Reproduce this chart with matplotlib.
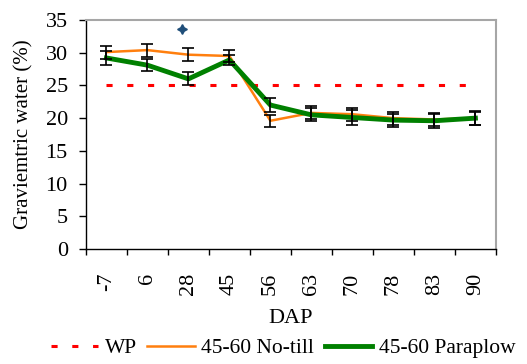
import numpy as np
import matplotlib
matplotlib.use("Agg")
import matplotlib.pyplot as plt

plt.rcParams["font.family"] = "serif"
plt.rcParams["font.serif"] = ["Liberation Serif", "Times New Roman", "DejaVu Serif"]

dap = ["-7", "6", "28", "45", "56", "63", "70", "78", "83", "90"]
wp = 25.0
notill = [30.1, 30.4, 29.7, 29.5, 19.6, 20.8, 20.6, 20.0, 19.8, 20.0]
notill_err = [1.0, 1.0, 1.0, 0.9, 0.9, 1.0, 1.0, 1.0, 1.0, 1.0]
paraplow = [29.2, 28.1, 26.0, 28.9, 22.0, 20.5, 20.1, 19.7, 19.6, 20.0]
paraplow_err = [1.0, 0.9, 1.0, 0.8, 1.1, 1.0, 1.1, 1.0, 1.1, 1.1]
# significance marker
sig_x = 1.84
sig_y = 33.7

x = np.arange(len(dap))

fig = plt.figure(figsize=(5.27, 3.64), dpi=100)
ax = fig.add_axes([0.163, 0.316, 0.778, 0.629])

ax.plot([x[0], x[-1]], [wp, wp], color="#ff0000", lw=2.2, ls=(0, (2, 4.8)),
        label="WP", zorder=2)
ax.plot(x, notill, color="#ff7f0e", lw=1.8, label="45-60 No-till", zorder=3)
ax.plot(x, paraplow, color="#008000", lw=3.5, label="45-60 Paraplow", zorder=4)
ax.errorbar(x, notill, yerr=notill_err, fmt="none", ecolor="black",
            elinewidth=1.2, capsize=4, capthick=1.2, zorder=5)
ax.errorbar(x, paraplow, yerr=paraplow_err, fmt="none", ecolor="black",
            elinewidth=1.2, capsize=4, capthick=1.2, zorder=5)
ax.plot([sig_x], [sig_y], marker=(4, 1, 0), color="#1f4e79", ms=7,
        ls="none", zorder=6)

ax.set_xlim(-0.5, len(dap) - 0.5)
ax.set_ylim(0, 35)
ax.set_yticks(np.arange(0, 36, 5))
ax.set_xticks(np.arange(-0.5, len(dap), 1.0))
ax.set_xticklabels([])
ax.set_xticks(x, minor=True)
ax.set_xticklabels(dap, minor=True, rotation=90, fontsize=16)
ax.tick_params(axis="x", which="major", length=4.5, width=1, direction="out")
ax.tick_params(axis="x", which="minor", length=0, pad=17)
ax.tick_params(axis="y", length=5, width=1, labelsize=16, pad=8)

for side in ["top", "right"]:
    ax.spines[side].set_color("#a6a6a6")
    ax.spines[side].set_linewidth(1.5)
for side in ["left", "bottom"]:
    ax.spines[side].set_color("black")
    ax.spines[side].set_linewidth(1)

ax.set_ylabel("Graviemtric water (%)", fontsize=15, labelpad=9)
ax.set_xlabel("DAP", fontsize=16, labelpad=10)

fig.legend(loc="lower center", bbox_to_anchor=(0.537, -0.037), ncol=3,
           frameon=False, fontsize=15.5, handlelength=2.2, columnspacing=0.5,
           handletextpad=0.3)

fig.savefig("out.png", dpi=100)
